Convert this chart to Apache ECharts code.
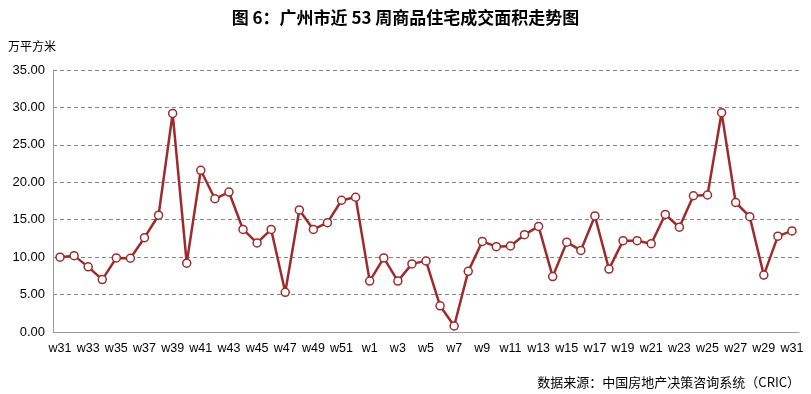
<!DOCTYPE html>
<html><head><meta charset="utf-8">
<script src="https://cdn.jsdelivr.net/npm/echarts@6/dist/echarts.min.js"></script>
<style>html,body{margin:0;padding:0;background:#fff}#c{width:811px;height:394px}</style>
</head><body><div id="c"></div>
<script>
const weeks = ["w31","w32","w33","w34","w35","w36","w37","w38","w39","w40","w41","w42","w43","w44","w45","w46","w47","w48","w49","w50","w51","w52",
"w1","w2","w3","w4","w5","w6","w7","w8","w9","w10","w11","w12","w13","w14","w15","w16","w17","w18","w19","w20","w21","w22","w23","w24","w25","w26","w27","w28","w29","w30","w31"];
const area = [10.0,10.2,8.7,7.0,9.9,9.85,12.6,15.6,29.2,9.2,21.6,17.8,18.7,13.7,11.9,13.7,5.3,16.3,13.7,14.6,17.6,18.0,
6.8,9.9,6.8,9.1,9.5,3.5,0.8,8.1,12.1,11.4,11.5,13.0,14.1,7.4,12.0,10.9,15.5,8.4,12.2,12.2,11.8,15.7,14.0,18.2,18.3,29.3,17.3,15.4,7.6,12.8,13.5];
const chart = echarts.init(document.getElementById('c'), null, {renderer:'canvas'});
chart.setOption({
  animation:false,
  title:[{text:'图 6：广州市近 53 周商品住宅成交面积走势图', left:'center', top:4,
    textStyle:{fontSize:17, fontWeight:'bold', color:'#000', fontFamily:'Noto Sans CJK SC'}},
    {text:'数据来源：中国房地产决策咨询系统（CRIC）', right:6, top:371,
    textStyle:{fontSize:13, fontWeight:'normal', color:'#000', fontFamily:'Noto Sans CJK SC'}}],
  grid:{left:53, right:12, top:70, bottom:62},
  xAxis:{type:'category', data:weeks, boundaryGap:true,
    axisLine:{lineStyle:{color:'#999'}},
    axisTick:{interval:0, lineStyle:{color:'#999'}, length:5},
    axisLabel:{interval:1, color:'#000', fontSize:12.5, fontFamily:'Liberation Sans', margin:10}},
  yAxis:{type:'value', min:0, max:35, interval:5, name:'万平方米',
    nameLocation:'end', nameGap:18, nameTextStyle:{color:'#000', fontSize:12, align:'left', padding:[0,0,0,-45], fontFamily:'Noto Sans CJK SC'},
    axisLine:{show:true, lineStyle:{color:'#999'}},
    axisLabel:{formatter:v=>v.toFixed(2), color:'#000', fontSize:13, fontFamily:'Liberation Sans', margin:8},
    splitLine:{lineStyle:{type:[4,3], color:'#888', width:1}}},
  series:[{type:'line', data:area, symbol:'circle', symbolSize:8,
    lineStyle:{color:'#9E2B2B', width:2.5},
    itemStyle:{color:'#fff', borderColor:'#9E2B2B', borderWidth:1.5}}]
});
</script></body></html>
